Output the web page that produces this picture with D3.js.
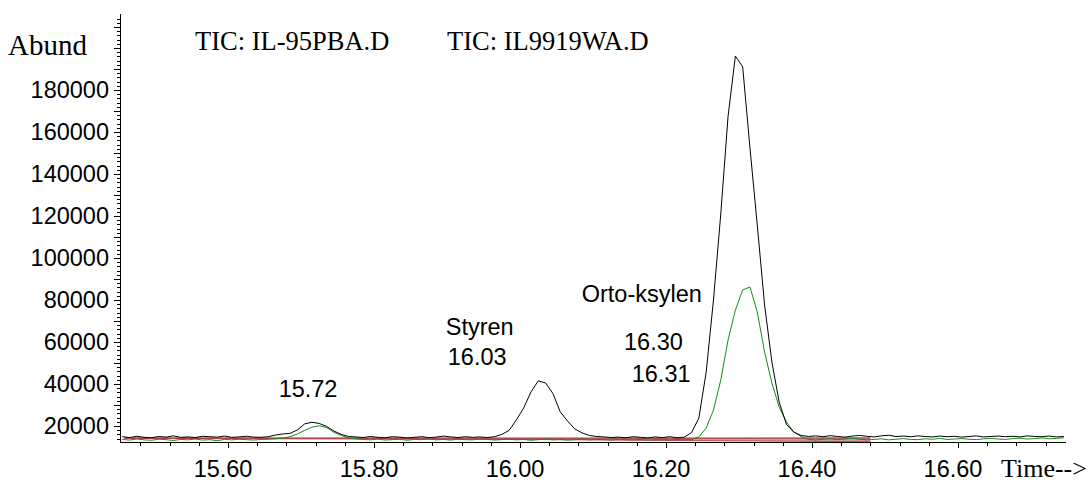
<!DOCTYPE html>
<html>
<head>
<meta charset="utf-8">
<script src="https://cdn.jsdelivr.net/npm/d3@7"></script>
<style>
  html, body { margin: 0; padding: 0; background: #fff; }
  svg { display: block; }
</style>
</head>
<body>
<svg id="chart" width="1091" height="482"></svg>
<script>
// ---------------- DATA ----------------
const times = [
  15.455,15.465,15.475,15.485,15.495,15.505,15.515,15.525,15.535,15.545,
  15.555,15.565,15.575,15.585,15.595,15.605,15.615,15.625,15.635,15.645,
  15.655,15.665,15.675,15.685,15.695,15.705,15.715,15.725,15.735,15.745,
  15.755,15.765,15.775,15.785,15.795,15.805,15.815,15.825,15.835,15.845,
  15.855,15.865,15.875,15.885,15.895,15.905,15.915,15.925,15.935,15.945,
  15.955,15.965,15.975,15.985,15.995,16.005,16.015,16.025,16.035,16.045,
  16.055,16.065,16.075,16.085,16.095,16.105,16.115,16.125,16.135,16.145,
  16.155,16.165,16.175,16.185,16.195,16.205,16.215,16.225,16.235,16.245,
  16.255,16.265,16.275,16.285,16.295,16.305,16.315,16.325,16.335,16.345,
  16.355,16.365,16.375,16.385,16.395,16.405,16.415,16.425,16.435,16.445,
  16.455,16.465,16.475,16.485,16.495,16.505,16.515,16.525,16.535,16.545,
  16.555,16.565,16.575,16.585,16.595,16.605,16.615,16.625,16.635,16.645,
  16.655,16.665,16.675,16.685,16.695,16.705,16.715,16.725,16.735,16.745
];

// TIC: IL-95PBA.D (black)
const ticBlack = [
  14900,14500,15100,14600,14400,15000,14700,15300,14600,14800,
  14500,15100,14900,14700,15200,14600,14800,15100,14700,14600,
  14900,15700,16200,16500,18100,21000,21800,21200,19800,17600,
  16000,15000,14800,14500,15000,14600,14400,14900,14700,14300,
  14600,14900,14500,14700,15200,14800,14500,14900,14600,14800,
  14500,14900,16000,17900,22900,28600,36200,41500,40500,35500,
  26800,22400,18600,16700,15500,15000,14800,14500,14700,14400,
  14900,14600,14300,14800,14500,14900,14400,14700,16900,23800,
  45700,80000,121000,167600,196200,191000,152400,115700,77600,50500,
  31400,20700,17100,15500,15000,15300,14900,15400,15000,14700,
  15200,15500,15100,14800,15300,15600,15000,15200,14900,15300,
  15000,14800,15200,14900,15100,14700,15000,15300,14800,15000,
  15200,14900,15100,14800,15300,15000,14900,15200,14800,15000
];

// TIC: IL9919WA.D (green)
const ticGreen = [
  13600,13300,13800,13400,13200,13700,13500,13100,13600,13400,
  13800,13300,13500,13000,13600,13400,13700,13500,13300,13600,
  13700,13900,14300,14900,16200,17900,19500,20100,19300,17000,
  15500,14300,13900,13600,13400,13800,13300,13500,13700,13200,
  13600,13500,13800,13400,13600,13300,13700,13500,13400,13800,
  13600,13300,13500,13700,13400,13600,13200,13500,13800,13400,
  13600,13300,13500,13700,13400,13600,13500,13300,13700,13500,
  13400,13600,13300,13500,13700,13400,13600,13500,13500,14800,
  19000,27600,41900,61000,75200,84800,86200,74300,55200,40500,
  29000,21900,17100,15000,13600,13300,13700,13900,13500,13800,
  14200,13700,13400,13600,13900,13400,13700,14000,13600,13500,
  13900,13700,14100,13600,13800,14000,13700,13500,13900,14100,
  13800,13600,14000,14200,13800,14000,14300,13900,14100,14400
];

// integration baseline band (red)
const baseTimes = [15.458, 16.00, 16.25, 16.48];
const baseUpper = [14300, 14250, 14250, 14300];
const baseLower = [14100, 13600, 13000, 12500];

const yTickValues = [20000, 40000, 60000, 80000, 100000, 120000, 140000, 160000, 180000];
const xTickValues = [15.60, 15.80, 16.00, 16.20, 16.40, 16.60];

const peakLabels = [
  { text: "15.72", t: 15.7096, v: 37860, anchor: "middle" },
  { text: "Styren", t: 15.8982, v: 67380, anchor: "start" },
  { text: "16.03", t: 15.901, v: 52860, anchor: "start" },
  { text: "Orto-ksylen", t: 16.0845, v: 83100, anchor: "start" },
  { text: "16.30", t: 16.1425, v: 60000, anchor: "start" },
  { text: "16.31", t: 16.153, v: 45000, anchor: "start" }
];

const fileLabels = ["TIC: IL-95PBA.D", "TIC: IL9919WA.D"];

// ---------------- CHART ----------------
const svg = d3.select("#chart");
const x = d3.scaleLinear().domain([15.452, 16.7475]).range([120, 1065.7]);
const y = d3.scaleLinear().domain([12380, 216200]).range([442, 14]);

const sans = "Liberation Sans, Arial, sans-serif";
const serif = "Liberation Serif, Times New Roman, serif";

// red baseline band
const band = baseTimes.map((t, i) => ({ t, u: baseUpper[i], l: baseLower[i] }));
svg.append("path")
  .datum(band)
  .attr("d", d3.area().x(d => x(d.t)).y0(d => y(d.l)).y1(d => y(d.u)))
  .attr("fill", "#cf9a9a");
svg.append("path")
  .datum(band)
  .attr("d", d3.line().x(d => x(d.t)).y(d => y(d.u)))
  .attr("fill", "none").attr("stroke", "#9a1c1c").attr("stroke-width", 1);
svg.append("path")
  .datum(band)
  .attr("d", d3.line().x(d => x(d.t)).y(d => y(d.l)))
  .attr("fill", "none").attr("stroke", "#b03030").attr("stroke-width", 0.8);

const line = d3.line().x(d => x(d[0])).y(d => y(d[1]));
svg.append("path")
  .datum(times.map((t, i) => [t, ticGreen[i]]))
  .attr("d", line)
  .attr("fill", "none").attr("stroke", "#158c15").attr("stroke-width", 1);
svg.append("path")
  .datum(times.map((t, i) => [t, ticBlack[i]]))
  .attr("d", line)
  .attr("fill", "none").attr("stroke", "#000").attr("stroke-width", 1);

// axes lines
svg.append("line").attr("x1", 120.5).attr("x2", 120.5).attr("y1", 14).attr("y2", 442)
  .attr("stroke", "#000").attr("stroke-width", 1);
svg.append("line").attr("x1", 120).attr("x2", 1066).attr("y1", 442.5).attr("y2", 442.5)
  .attr("stroke", "#000").attr("stroke-width", 1);

// y minor ticks
const yMinor = d3.range(14000, 216000, 2000);
svg.append("g").selectAll("line").data(yMinor).join("line")
  .attr("x1", 120).attr("x2", d => (d % 10000 === 0 ? 114 : 117))
  .attr("y1", d => Math.round(y(d)) + 0.5).attr("y2", d => Math.round(y(d)) + 0.5)
  .attr("stroke", "#000").attr("stroke-width", 1);

// y labels
svg.append("g").selectAll("text").data(yTickValues).join("text")
  .attr("x", 109).attr("y", d => y(d)).attr("dy", "0.36em")
  .attr("text-anchor", "end")
  .attr("font-family", sans).attr("font-size", 23.5)
  .text(d => d);

// x ticks
const xMinor = d3.range(15.48, 16.74, 0.04);
svg.append("g").selectAll("line").data(xMinor).join("line")
  .attr("x1", d => Math.round(x(d)) + 0.5).attr("x2", d => Math.round(x(d)) + 0.5)
  .attr("y1", 442).attr("y2", d => (Math.abs(((d - 15.6) / 0.2) - Math.round((d - 15.6) / 0.2)) < 0.01 ? 448 : 446))
  .attr("stroke", "#000").attr("stroke-width", 1);

svg.append("g").selectAll("text").data(xTickValues).join("text")
  .attr("x", d => x(d) - 5).attr("y", 477)
  .attr("text-anchor", "middle")
  .attr("font-family", sans).attr("font-size", 23.5)
  .text(d => d.toFixed(2));

// axis titles
svg.append("text").attr("x", 8).attr("y", 55)
  .attr("font-family", serif).attr("font-size", 29).text("Abund");
svg.append("text").attr("x", 1001).attr("y", 477)
  .attr("font-family", serif).attr("font-size", 26).text("Time-->");

// file labels
svg.append("g").selectAll("text").data(fileLabels).join("text")
  .attr("x", (d, i) => [195, 447][i]).attr("y", 50)
  .attr("font-family", serif).attr("font-size", 26.5)
  .text(d => d);

// peak labels
svg.append("g").selectAll("text").data(peakLabels).join("text")
  .attr("x", d => x(d.t)).attr("y", d => y(d.v)).attr("dy", "0.36em")
  .attr("text-anchor", d => d.anchor)
  .attr("font-family", sans).attr("font-size", 23.5)
  .text(d => d.text);
</script>
</body>
</html>
